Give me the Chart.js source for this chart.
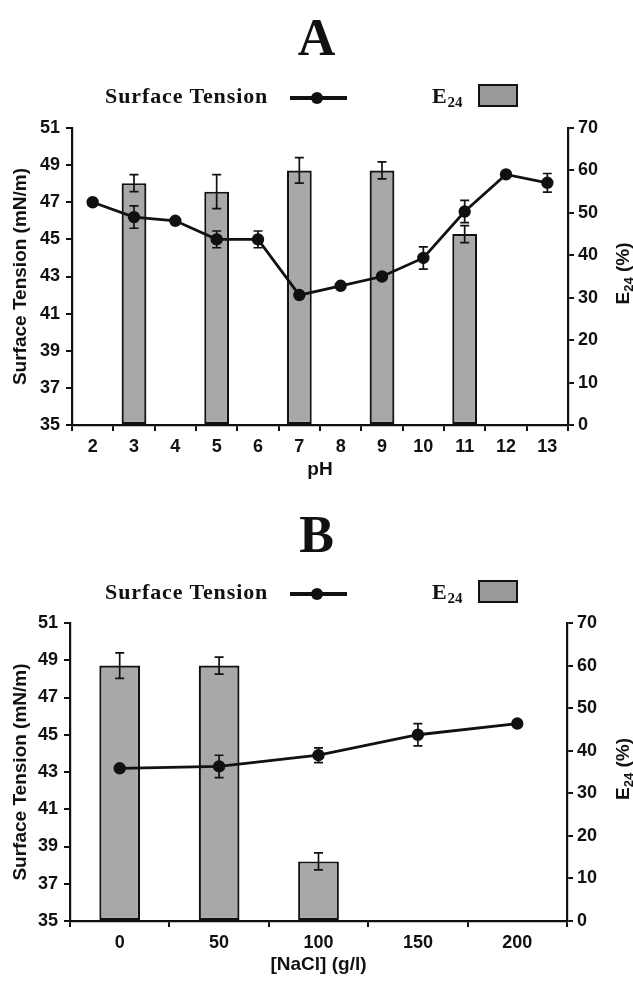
<!DOCTYPE html>
<html>
<head>
<meta charset="utf-8">
<script src="https://cdn.jsdelivr.net/npm/chart.js@4.4.0/dist/chart.umd.min.js"></script>
<style>
    body { margin: 0; background: #fff; width: 633px; height: 982px; position: relative; overflow: hidden; }
    canvas { position: absolute; left: 0; }
    .panel-title { position: absolute; left: 0; width: 633px; text-align: center; font: bold 52px 'Liberation Serif', serif; color: #111; line-height: 52px; }
    .legend { position: absolute; left: 0; width: 633px; height: 30px; }
    .lg-label { position: absolute; top: 0; font: bold 22px 'Liberation Serif', serif; color: #111; letter-spacing: 0.9px; line-height: 26px; white-space: nowrap; }
    .lg-label sub { font-size: 15px; vertical-align: -4px; letter-spacing: 0; }
    .lg-line { position: absolute; top: 13px; width: 57px; height: 3.5px; background: #111; }
    .lg-dot { position: absolute; top: 9px; width: 12px; height: 12px; border-radius: 50%; background: #111; }
    .lg-box { position: absolute; top: 1px; width: 36px; height: 19px; border: 2.5px solid #111; background: #999; }
</style>
</head>
<body>
<div class="panel-title" style="top:12px">A</div>
<div class="panel-title" style="top:509px">B</div>
<canvas id="chartA" width="633" height="380" style="top:110px"></canvas>
<canvas id="chartB" width="633" height="382" style="top:600px"></canvas>
<script>
// Panel A: effect of pH
const phLabels = ['2', '3', '4', '5', '6', '7', '8', '9', '10', '11', '12', '13'];
const phTension = [47.0, 46.2, 46.0, 45.0, 45.0, 42.0, 42.5, 43.0, 44.0, 46.5, 48.5, 48.05];
const phTensionErr = [0, 0.6, 0.1, 0.45, 0.45, 0, 0, 0.1, 0.6, 0.6, 0, 0.5];
const phE24 = [null, 57, null, 55, null, 60, null, 60, null, 45, null, null];
const phE24Err = [0, 2, 0, 4, 0, 3, 0, 2, 0, 2, 0, 0];

// Panel B: effect of NaCl concentration
const naclLabels = ['0', '50', '100', '150', '200'];
const naclTension = [43.2, 43.3, 43.9, 45.0, 45.6];
const naclTensionErr = [0.1, 0.6, 0.4, 0.6, 0.1];
const naclE24 = [60, 60, 14, null, null];
const naclE24Err = [3, 2, 2, 0, 0];

const tensionTicks = { min: 35, max: 51, step: 2 };
const e24Ticks = { min: 0, max: 70, step: 10 };

const INK = '#111';
const tickFont = { family: "'Liberation Sans', Arial, sans-serif", weight: 'bold', size: 18 };

// error bars are kept on each dataset as `errors`
const errorBars = {
    id: 'errorBars',
    afterDatasetsDraw(chart) {
        const ctx = chart.ctx;
        ctx.save();
        ctx.strokeStyle = INK;
        ctx.lineWidth = 1.7;
        chart.data.datasets.forEach((ds, di) => {
            if (!ds.errors) return;
            const meta = chart.getDatasetMeta(di);
            const scale = chart.scales[meta.yAxisID];
            meta.data.forEach((el, i) => {
                const v = ds.data[i], e = ds.errors[i];
                if (v == null || !e) return;
                const yTop = scale.getPixelForValue(v + e);
                const yBot = scale.getPixelForValue(v - e);
                ctx.beginPath();
                ctx.moveTo(el.x, yTop); ctx.lineTo(el.x, yBot);
                ctx.moveTo(el.x - 4.5, yTop); ctx.lineTo(el.x + 4.5, yTop);
                ctx.moveTo(el.x - 4.5, yBot); ctx.lineTo(el.x + 4.5, yBot);
                ctx.stroke();
            });
        });
        ctx.restore();
    }
};

// axis titles, drawn by hand so E24 can get its subscript
const axisTitles = {
    id: 'axisTitles',
    afterDraw(chart, args, opts) {
        const ctx = chart.ctx;
        const area = chart.chartArea;
        const midY = (area.top + area.bottom) / 2;
        const font = "bold 19px 'Liberation Sans', Arial, sans-serif";
        const subFont = "bold 13px 'Liberation Sans', Arial, sans-serif";
        ctx.save();
        ctx.fillStyle = INK;
        ctx.font = font;
        ctx.textBaseline = 'middle';

        // left title
        ctx.save();
        ctx.translate(21, midY);
        ctx.rotate(-Math.PI / 2);
        ctx.textAlign = 'center';
        ctx.fillText(opts.left, 0, 0);
        ctx.restore();

        // right title: E24 (%)
        ctx.save();
        ctx.translate(chart.width - 9, midY - 3);
        ctx.rotate(-Math.PI / 2);
        ctx.textAlign = 'left';
        const wE = ctx.measureText('E').width;
        ctx.font = subFont;
        const wSub = ctx.measureText('24').width;
        ctx.font = font;
        const wRest = ctx.measureText(' (%)').width;
        let x = -(wE + wSub + wRest) / 2;
        ctx.fillText('E', x, 0);
        x += wE;
        ctx.font = subFont;
        ctx.fillText('24', x, 5);
        x += wSub;
        ctx.font = font;
        ctx.fillText(' (%)', x, 0);
        ctx.restore();

        // x title
        ctx.textAlign = 'center';
        ctx.fillText(opts.x, (area.left + area.right) / 2, area.bottom + opts.xGap);
        ctx.restore();
    }
};

function makeChart(canvasId, labels, tension, tensionErr, e24, e24Err, barPct, xTitle, box) {
    const canvas = document.getElementById(canvasId);
    const axisStyle = (extra) => Object.assign({
        grid: { display: true, drawOnChartArea: false, tickLength: 6, color: INK, lineWidth: 2 },
        border: { display: true, color: INK, width: 2.2 },
        ticks: { color: INK, font: tickFont, padding: 5 }
    }, extra);

    return new Chart(canvas, {
        type: 'bar',
        data: {
            labels: labels,
            datasets: [
                {
                    type: 'line',
                    label: 'Surface Tension',
                    data: tension,
                    errors: tensionErr,
                    yAxisID: 'y',
                    order: 0,
                    borderColor: INK,
                    borderWidth: 2.8,
                    pointRadius: 4.8,
                    pointBackgroundColor: INK,
                    pointBorderColor: INK,
                    tension: 0
                },
                {
                    type: 'bar',
                    label: 'E24',
                    data: e24,
                    errors: e24Err,
                    yAxisID: 'y1',
                    order: 1,
                    backgroundColor: '#a8a8a8',
                    borderColor: INK,
                    borderWidth: 2.2,
                    borderSkipped: false,
                    barPercentage: barPct,
                    categoryPercentage: 1
                }
            ]
        },
        options: {
            responsive: false,
            animation: false,
            events: [],
            layout: { padding: { top: box.top, left: 0, right: 0, bottom: 0 } },
            plugins: {
                legend: { display: false },
                tooltip: { enabled: false },
                axisTitles: { left: 'Surface Tension (mN/m)', x: xTitle, xGap: box.xGap }
            },
            scales: {
                x: axisStyle({
                    offset: true,
                    grid: { display: true, drawOnChartArea: false, offset: true, tickLength: 6, color: INK, lineWidth: 2 },
                    ticks: { color: INK, font: tickFont, padding: 5, maxRotation: 0, autoSkip: false },
                    afterFit: s => { s.height = box.bottom; }
                }),
                y: axisStyle({
                    position: 'left',
                    min: tensionTicks.min,
                    max: tensionTicks.max,
                    ticks: { color: INK, font: tickFont, padding: 6, stepSize: tensionTicks.step },
                    afterFit: s => { s.width = box.left; }
                }),
                y1: axisStyle({
                    position: 'right',
                    min: e24Ticks.min,
                    max: e24Ticks.max,
                    ticks: { color: INK, font: tickFont, padding: 4, stepSize: e24Ticks.step },
                    afterFit: s => { s.width = box.right; }
                })
            }
        },
        plugins: [errorBars, axisTitles]
    });
}

function renderLegend(top) {
    const el = document.createElement('div');
    el.className = 'legend';
    el.style.top = top + 'px';
    el.innerHTML = `
        <span class="lg-label" style="left:105px">Surface Tension</span>
        <span class="lg-line" style="left:290px"></span>
        <span class="lg-dot" style="left:311px"></span>
        <span class="lg-label" style="left:432px">E<sub>24</sub></span>
        <span class="lg-box" style="left:478px"></span>
    `;
    document.body.appendChild(el);
}

document.addEventListener('DOMContentLoaded', () => {
    renderLegend(83);
    renderLegend(579);
    makeChart('chartA', phLabels, phTension, phTensionErr, phE24, phE24Err, 0.6, 'pH',
        { top: 18, bottom: 65, left: 72, right: 65, xGap: 45 });
    makeChart('chartB', naclLabels, naclTension, naclTensionErr, naclE24, naclE24Err, 0.41, '[NaCl] (g/l)',
        { top: 23, bottom: 61, left: 70, right: 66, xGap: 44 });
});
</script>
</body>
</html>
